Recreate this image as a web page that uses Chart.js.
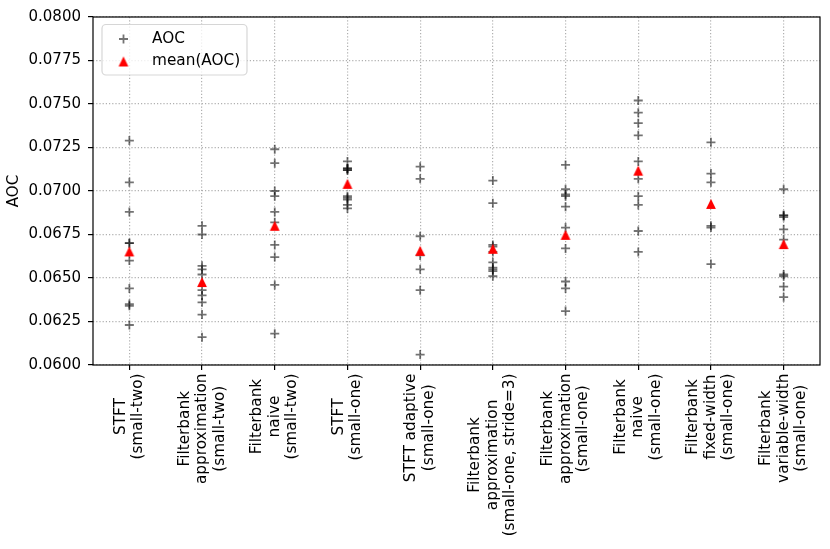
<!DOCTYPE html>
<html>
<head>
<meta charset="utf-8">
<script src="https://cdn.jsdelivr.net/npm/chart.js@4.4.0/dist/chart.umd.min.js"></script>
<style>
  html, body { margin: 0; padding: 0; background: #fff; }
  #wrap { width: 830px; height: 549px; }
</style>
</head>
<body>
<div id="wrap"><canvas id="chart"></canvas></div>
<script>
// tick labels of the x axis, one array of lines per column
const categories = [
  ['STFT', '(small-two)'],
  ['Filterbank', 'approximation', '(small-two)'],
  ['Filterbank', 'naive', '(small-two)'],
  ['STFT', '(small-one)'],
  ['STFT adaptive', '(small-one)'],
  ['Filterbank', 'approximation', '(small-one, stride=3)'],
  ['Filterbank', 'approximation', '(small-one)'],
  ['Filterbank', 'naive', '(small-one)'],
  ['Filterbank', 'fixed-width', '(small-one)'],
  ['Filterbank', 'variable-width', '(small-one)']
];

// single runs
const aocStftSmallTwo = [0.0729, 0.0705, 0.0688, 0.0670, 0.0670, 0.0660, 0.0644, 0.0635, 0.0634, 0.0623];
const aocApproxSmallTwo = [0.0680, 0.0675, 0.0657, 0.0655, 0.0652, 0.0643, 0.0640, 0.0636, 0.0629, 0.0616];
const aocNaiveSmallTwo = [0.0724, 0.0716, 0.0700, 0.0697, 0.0688, 0.0682, 0.0669, 0.0662, 0.0646, 0.0618];
const aocStftSmallOne = [0.0717, 0.0713, 0.0713, 0.0712, 0.0712, 0.0697, 0.0696, 0.0695, 0.0692, 0.0690];
const aocAdaptiveSmallOne = [0.0714, 0.0707, 0.0674, 0.0663, 0.0655, 0.0643, 0.0606];
const aocApproxStride3 = [0.0706, 0.0693, 0.0669, 0.0668, 0.0665, 0.0659, 0.0656, 0.0655, 0.0654, 0.0651];
const aocApproxSmallOne = [0.0715, 0.0701, 0.0698, 0.0697, 0.0691, 0.0679, 0.0667, 0.0648, 0.0644, 0.0631];
const aocNaiveSmallOne = [0.0752, 0.0745, 0.0739, 0.0732, 0.0717, 0.0707, 0.0697, 0.0692, 0.0677, 0.0665];
const aocFixedSmallOne = [0.0728, 0.0710, 0.0705, 0.0680, 0.0679, 0.0658];
const aocVariableSmallOne = [0.0701, 0.0686, 0.0686, 0.0685, 0.0678, 0.0672, 0.0652, 0.0651, 0.0645, 0.0639];

const aocRuns = [
  aocStftSmallTwo, aocApproxSmallTwo, aocNaiveSmallTwo, aocStftSmallOne, aocAdaptiveSmallOne,
  aocApproxStride3, aocApproxSmallOne, aocNaiveSmallOne, aocFixedSmallOne, aocVariableSmallOne
];

// mean(AOC) triangles
const aocMeans = [0.06653, 0.06477, 0.06800, 0.07041, 0.06656, 0.06668, 0.06748, 0.07117, 0.06926, 0.06695];

const yTicks = [0.0600, 0.0625, 0.0650, 0.0675, 0.0700, 0.0725, 0.0750, 0.0775, 0.0800];

const FONT_SIZE = 15;
const LABEL_FONT = '15.3px "DejaVu Sans"';
const LINE_H = 17.5;
const CROSS_COLOR = 'rgba(0,0,0,0.55)';
const CROSS_R = 4.5;
const CROSS_W = 1.8;

Chart.defaults.font.family = '"DejaVu Sans", sans-serif';
Chart.defaults.font.size = FONT_SIZE;
Chart.defaults.color = '#000';

// matplotlib style '^' marker, centred on its bounding box
function triangleMarker(size, color) {
  const c = document.createElement('canvas');
  const s = Math.ceil(size) + 2;
  c.width = s;
  c.height = s;
  const g = c.getContext('2d');
  const m = s / 2, h = size / 2;
  g.fillStyle = color;
  g.beginPath();
  g.moveTo(m, m - h);
  g.lineTo(m - h, m + h);
  g.lineTo(m + h, m + h);
  g.closePath();
  g.fill();
  return c;
}
const triangle = triangleMarker(9.8, '#ff0000');

const aocPoints = [];
aocRuns.forEach((runs, i) => runs.forEach(v => aocPoints.push({x: i, y: v})));
const meanPoints = aocMeans.map((v, i) => ({x: i, y: v}));

// frame, rotated multi-line x labels and the legend box
const decorations = {
  id: 'decorations',
  afterDraw(chart) {
    const {ctx, chartArea: a, scales: {x}} = chart;
    ctx.save();
    ctx.strokeStyle = '#000';
    ctx.lineWidth = 1.2;
    ctx.strokeRect(a.left, a.top, a.right - a.left, a.bottom - a.top);

    ctx.font = LABEL_FONT;
    ctx.fillStyle = '#000';
    ctx.textAlign = 'center';
    ctx.textBaseline = 'middle';
    categories.forEach((lines, i) => {
      const px = x.getPixelForValue(i);
      const w = Math.max(...lines.map(l => ctx.measureText(l).width));
      const cy = a.bottom + 8.5 + w / 2;
      lines.forEach((line, j) => {
        const lx = px + (j - (lines.length - 1) / 2) * LINE_H;
        ctx.save();
        ctx.translate(lx, cy);
        ctx.rotate(-Math.PI / 2);
        ctx.fillText(line, 0, 0);
        ctx.restore();
      });
    });

    // legend
    ctx.beginPath();
    ctx.roundRect(102, 24.5, 145, 50.5, 4);
    ctx.fillStyle = 'rgba(255,255,255,0.8)';
    ctx.fill();
    ctx.strokeStyle = 'rgba(204,204,204,0.8)';
    ctx.lineWidth = 1.2;
    ctx.stroke();

    ctx.strokeStyle = CROSS_COLOR;
    ctx.lineWidth = CROSS_W;
    ctx.beginPath();
    ctx.moveTo(123.5 - CROSS_R, 39);
    ctx.lineTo(123.5 + CROSS_R, 39);
    ctx.moveTo(123.5, 39 - CROSS_R);
    ctx.lineTo(123.5, 39 + CROSS_R);
    ctx.stroke();
    ctx.drawImage(triangle, 123.5 - triangle.width / 2, 61.5 - triangle.height / 2);

    ctx.fillStyle = '#000';
    ctx.textAlign = 'left';
    ctx.fillText('AOC', 152, 39);
    ctx.fillText('mean(AOC)', 152, 61.5);
    ctx.restore();
  }
};

const gridOpts = {
  color: '#b0b0b0',
  lineWidth: 1.2,
  tickColor: '#000',
  tickLength: 5,
  tickWidth: 1.2
};

new Chart(document.getElementById('chart'), {
  type: 'scatter',
  data: {
    datasets: [
      {
        label: 'mean(AOC)',
        data: meanPoints,
        pointStyle: triangle,
        pointRadius: 5,
        order: 1
      },
      {
        label: 'AOC',
        data: aocPoints,
        pointStyle: 'cross',
        pointRadius: CROSS_R,
        pointBorderColor: CROSS_COLOR,
        pointBorderWidth: CROSS_W,
        order: 2
      }
    ]
  },
  options: {
    responsive: true,
    maintainAspectRatio: false,
    animation: false,
    layout: { padding: { top: 17, right: 10, bottom: 0, left: 0 } },
    plugins: {
      legend: { display: false },
      tooltip: { enabled: false }
    },
    scales: {
      x: {
        type: 'linear',
        min: -0.5,
        max: 9.5,
        afterBuildTicks: s => { s.ticks = categories.map((_, i) => ({value: i})); },
        afterFit: s => { s.height = 184; },
        ticks: { display: false },
        grid: gridOpts,
        border: { display: false, dash: [1.2, 2] }
      },
      y: {
        min: 0.06,
        max: 0.08,
        afterBuildTicks: s => { s.ticks = yTicks.map(v => ({value: v})); },
        afterFit: s => { s.width = 93; },
        ticks: {
          callback: v => v.toFixed(4),
          color: '#000',
          padding: 7
        },
        grid: gridOpts,
        border: { display: false, dash: [1.2, 2] },
        title: {
          display: true,
          text: 'AOC',
          color: '#000',
          padding: { top: 5, bottom: 0 }
        }
      }
    }
  },
  plugins: [decorations]
});
</script>
</body>
</html>
